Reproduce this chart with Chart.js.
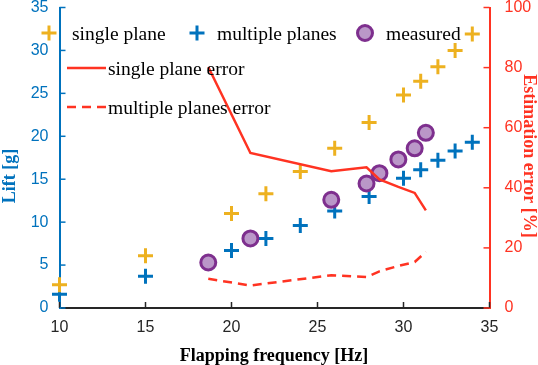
<!DOCTYPE html>
<html>
<head>
<meta charset="utf-8">
<script src="https://cdn.jsdelivr.net/npm/chart.js@4.4.0/dist/chart.umd.min.js"></script>
<style>
  body { margin: 0; background: #fff; }
  #wrap { width: 538px; height: 365px; position: relative; }
</style>
</head>
<body>
<div id="wrap"><canvas id="liftChart"></canvas></div>
<script>
// estimated lift at the tested frequencies (Hz, g)
const freqEstimate = [10, 15, 20, 22, 24, 26, 28, 30, 31, 32, 33, 34];
const liftSinglePlane = [2.7, 6.1, 11.0, 13.3, 15.9, 18.6, 21.6, 24.8, 26.4, 28.1, 30.0, 31.9];
const liftMultiPlanes = [1.6, 3.7, 6.7, 8.1, 9.6, 11.3, 13.0, 15.1, 16.1, 17.2, 18.3, 19.3];

// measured lift and estimation error (%)
const freqMeasured = [18.65, 21.1, 25.8, 27.85, 28.6, 29.7, 30.65, 31.3];
const liftMeasured = [5.3, 8.1, 12.6, 14.5, 15.7, 17.3, 18.6, 20.4];
const errSinglePlane = [80.2, 51.6, 45.5, 46.8, 42.8, 40.3, 38.3, 32.5];
const errMultiPlanes = [9.7, 7.5, 10.9, 10.3, 12.2, 14.0, 15.3, 18.7];

// tick labels
const freqTicks = [10, 15, 20, 25, 30, 35];
const liftTicks = [0, 5, 10, 15, 20, 25, 30, 35];
const errTicks = [0, 20, 40, 60, 80, 100];

const BLUE = '#0072BD';
const ORANGE = '#EDB120';
const PURPLE = '#7E2F8E';
const PURPLE_FILL = '#BA97C8';
const RED = '#FF3322';
const AXIS_DARK = '#262626';
const SERIF = '"Liberation Serif", "Times New Roman", serif';
const SANS = '"Liberation Sans", Arial, sans-serif';

const pts = (xs, ys) => xs.map((x, i) => ({ x: x, y: ys[i] }));
const fixTicks = list => scale => { scale.ticks = list.map(v => ({ value: v })); };
// fixed box sizes, no extra padding for the end labels
const fitWidth = w => s => { s.width = w; s.paddingTop = 0; s.paddingBottom = 0; };
const fitHeight = h => s => { s.height = h; s.paddingLeft = 0; s.paddingRight = 0; };

// tick marks pointing inward, legend and axis titles like the original figure
const decoPlugin = {
    id: 'deco',
    afterDraw(chart) {
        const { ctx, chartArea: a, scales } = chart;
        const len = 6;
        ctx.save();
        ctx.lineWidth = 1.5;

        ctx.strokeStyle = AXIS_DARK;
        scales.x.ticks.forEach(t => {
            const px = scales.x.getPixelForValue(t.value);
            ctx.beginPath(); ctx.moveTo(px, a.bottom); ctx.lineTo(px, a.bottom - len); ctx.stroke();
        });
        ctx.strokeStyle = BLUE;
        scales.y.ticks.forEach(t => {
            const py = scales.y.getPixelForValue(t.value);
            ctx.beginPath(); ctx.moveTo(a.left, py); ctx.lineTo(a.left + len, py); ctx.stroke();
        });
        ctx.strokeStyle = RED;
        scales.yErr.ticks.forEach(t => {
            const py = scales.yErr.getPixelForValue(t.value);
            ctx.beginPath(); ctx.moveTo(a.right, py); ctx.lineTo(a.right - len, py); ctx.stroke();
        });

        // legend
        ctx.font = '19.5px ' + SERIF;
        ctx.fillStyle = '#000';
        ctx.textAlign = 'left';
        ctx.textBaseline = 'alphabetic';
        const cross = (x, y, c) => {
            ctx.strokeStyle = c; ctx.lineWidth = 3;
            ctx.beginPath();
            ctx.moveTo(x - 7.5, y); ctx.lineTo(x + 7.5, y);
            ctx.moveTo(x, y - 7.5); ctx.lineTo(x, y + 7.5);
            ctx.stroke();
        };
        cross(49, 33, ORANGE);
        ctx.fillText('single plane', 72, 39.5);
        cross(197, 33, BLUE);
        ctx.fillText('multiple planes', 217, 39.5);
        ctx.beginPath();
        ctx.arc(365, 33, 7.5, 0, Math.PI * 2);
        ctx.fillStyle = PURPLE_FILL; ctx.fill();
        ctx.strokeStyle = PURPLE; ctx.lineWidth = 3; ctx.stroke();
        ctx.fillStyle = '#000';
        ctx.fillText('measured', 386, 39.5);

        ctx.strokeStyle = RED; ctx.lineWidth = 2.5;
        ctx.beginPath(); ctx.moveTo(67, 68); ctx.lineTo(106, 68); ctx.stroke();
        ctx.fillText('single plane error', 108, 74.5);
        ctx.setLineDash([9, 6]);
        ctx.beginPath(); ctx.moveTo(67, 107); ctx.lineTo(106, 107); ctx.stroke();
        ctx.setLineDash([]);
        ctx.fillText('multiple planes error', 108, 113.5);

        // axis titles
        ctx.font = 'bold 18px ' + SERIF;
        ctx.textAlign = 'center';
        ctx.fillStyle = '#000';
        ctx.fillText('Flapping frequency [Hz]', 274, 361);

        ctx.fillStyle = BLUE;
        ctx.save();
        ctx.translate(15, 176);
        ctx.rotate(-Math.PI / 2);
        ctx.fillText('Lift [g]', 0, 0);
        ctx.restore();

        ctx.fillStyle = RED;
        ctx.save();
        ctx.translate(524, 156);
        ctx.rotate(Math.PI / 2);
        ctx.fillText('Estimation error [%]', 0, 0);
        ctx.restore();

        ctx.restore();
    }
};

const ctx = document.getElementById('liftChart').getContext('2d');
const liftChart = new Chart(ctx, {
    type: 'scatter',
    data: {
        datasets: [{
            label: 'single plane error',
            data: pts(freqMeasured, errSinglePlane),
            yAxisID: 'yErr',
            showLine: true,
            borderColor: RED,
            borderWidth: 2.5,
            pointRadius: 0,
            order: 0
        }, {
            label: 'multiple planes error',
            data: pts(freqMeasured, errMultiPlanes),
            yAxisID: 'yErr',
            showLine: true,
            borderColor: RED,
            borderWidth: 2.5,
            borderDash: [9, 6],
            pointRadius: 0,
            order: 0
        }, {
            label: 'measured',
            data: pts(freqMeasured, liftMeasured),
            yAxisID: 'y',
            pointStyle: 'circle',
            pointRadius: 7.5,
            borderWidth: 3,
            borderColor: PURPLE,
            backgroundColor: PURPLE_FILL,
            order: 1
        }, {
            label: 'single plane',
            data: pts(freqEstimate, liftSinglePlane),
            yAxisID: 'y',
            pointStyle: 'cross',
            pointRadius: 7.5,
            borderWidth: 3,
            borderColor: ORANGE,
            order: 2
        }, {
            label: 'multiple planes',
            data: pts(freqEstimate, liftMultiPlanes),
            yAxisID: 'y',
            pointStyle: 'cross',
            pointRadius: 7.5,
            borderWidth: 3,
            borderColor: BLUE,
            order: 2
        }]
    },
    options: {
        responsive: true,
        maintainAspectRatio: false,
        animation: false,
        clip: false,
        layout: { autoPadding: false, padding: { top: 7.5, left: 0, right: 0, bottom: 0 } },
        plugins: {
            legend: { display: false },
            tooltip: { enabled: false }
        },
        scales: {
            x: {
                type: 'linear',
                position: 'bottom',
                min: 10, max: 35,
                afterBuildTicks: fixTicks(freqTicks),
                afterFit: fitHeight(57),
                grid: { display: false },
                border: { color: AXIS_DARK, width: 2 },
                ticks: { color: AXIS_DARK, font: { family: SANS, size: 16 }, padding: 2 }
            },
            y: {
                type: 'linear',
                position: 'left',
                min: 0, max: 35,
                afterBuildTicks: fixTicks(liftTicks),
                afterFit: fitWidth(59.5),
                grid: { display: false },
                border: { color: BLUE, width: 2 },
                ticks: { color: BLUE, font: { family: SANS, size: 16 }, padding: 3 }
            },
            yErr: {
                type: 'linear',
                position: 'right',
                min: 0, max: 100,
                afterBuildTicks: fixTicks(errTicks),
                afterFit: fitWidth(48.5),
                grid: { display: false },
                border: { color: RED, width: 2 },
                ticks: { color: RED, font: { family: SANS, size: 16 }, padding: 7 }
            }
        }
    },
    plugins: [decoPlugin]
});
</script>
</body>
</html>
